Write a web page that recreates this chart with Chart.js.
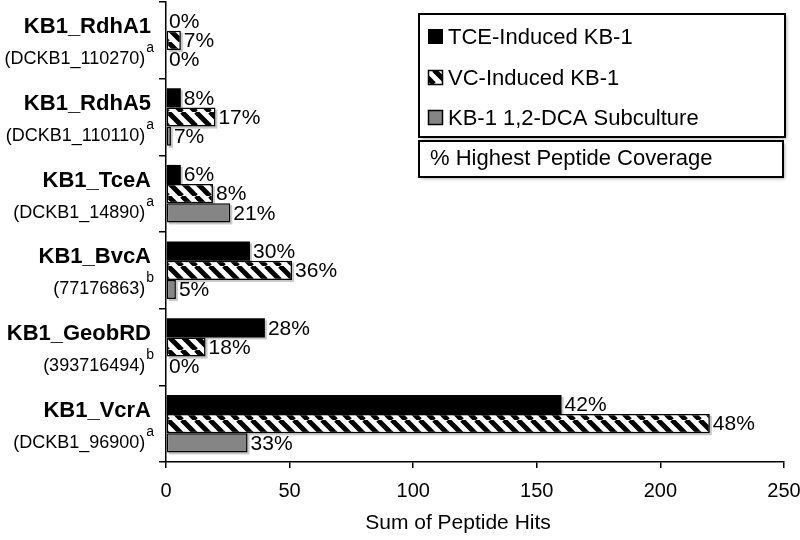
<!DOCTYPE html>
<html>
<head>
<meta charset="utf-8">
<title>Peptide hits per reductive dehalogenase</title>
<script src="https://cdn.jsdelivr.net/npm/chart.js@4.4.1/dist/chart.umd.min.js"></script>
<style>
  html, body { margin: 0; padding: 0; background: #fff; }
  #wrap { width: 800px; height: 540px; }
</style>
</head>
<body>
<div id="wrap"><canvas id="hitsChart" width="800" height="540"></canvas></div>
<script>
// Categories (top to bottom)
const proteins = ['KB1_RdhA1', 'KB1_RdhA5', 'KB1_TceA', 'KB1_BvcA', 'KB1_GeobRD', 'KB1_VcrA'];
const accessions = ['(DCKB1_110270)', '(DCKB1_110110)', '(DCKB1_14890)', '(77176863)', '(393716494)', '(DCKB1_96900)'];
const sources = ['a', 'a', 'a', 'b', 'b', 'a'];

// Sum of peptide hits
const tceHits = [0, 6, 6, 34, 40, 160];
const vcHits = [6, 20, 19, 51, 16, 220];
const dcaHits = [0, 2, 26, 4, 0, 33];

// % highest peptide coverage (bar labels)
const tceCoverage = ['0%', '8%', '6%', '30%', '28%', '42%'];
const vcCoverage = ['7%', '17%', '8%', '36%', '18%', '48%'];
const dcaCoverage = ['0%', '7%', '21%', '5%', '0%', '33%'];

// X axis
const hitTicks = [0, 50, 100, 150, 200, 250];
const xTitle = 'Sum of Peptide Hits';

const FONT = '"Liberation Sans", Arial, Helvetica, sans-serif';

// "\\\" hatch used for the VC bars
function makeHatch() {
  const c = document.createElement('canvas');
  c.width = 14;
  c.height = 14;
  const g = c.getContext('2d');
  g.fillStyle = '#fff';
  g.fillRect(0, 0, 14, 14);
  g.strokeStyle = '#000';
  g.lineWidth = 5;
  [-14, 0, 14].forEach(k => {
    g.beginPath();
    g.moveTo(k, 0);
    g.lineTo(k + 14, 14);
    g.stroke();
  });
  return g.createPattern(c, 'repeat');
}

const ctx = document.getElementById('hitsChart').getContext('2d');
const hatch = makeHatch();
const coverage = [tceCoverage, vcCoverage, dcaCoverage];

// soft drop shadow under each bar
const barShadow = {
  id: 'barShadow',
  beforeDatasetsDraw(chart) {
    const c = chart.ctx;
    c.save();
    c.fillStyle = 'rgba(0,0,0,0.22)';
    chart.data.datasets.forEach((ds, d) => {
      chart.getDatasetMeta(d).data.forEach(el => {
        const p = el.getProps(['x', 'y', 'base', 'height'], true);
        if (p.x - p.base < 1) return;
        c.fillRect(p.base + 2, p.y - p.height / 2 + 2, p.x - p.base, p.height);
      });
    });
    c.restore();
  }
};

// percentage labels at the end of each bar
const coverageLabels = {
  id: 'coverageLabels',
  afterDatasetsDraw(chart) {
    const c = chart.ctx;
    c.save();
    c.font = '21px ' + FONT;
    c.fillStyle = '#000';
    c.textAlign = 'left';
    c.textBaseline = 'middle';
    chart.data.datasets.forEach((ds, d) => {
      chart.getDatasetMeta(d).data.forEach((el, i) => {
        const p = el.getProps(['x', 'y'], true);
        c.fillText(coverage[d][i], p.x + 3, p.y + 1);
      });
    });
    c.restore();
  }
};

// two-line category labels: bold name, accession with superscript source
const categoryLabels = {
  id: 'categoryLabels',
  afterDraw(chart) {
    const c = chart.ctx;
    const y = chart.scales.y;
    const right = y.right - 15;
    c.save();
    c.fillStyle = '#000';
    c.textAlign = 'right';
    c.textBaseline = 'middle';
    proteins.forEach((name, i) => {
      const mid = y.getPixelForValue(i);
      c.font = 'bold 22px ' + FONT;
      c.fillText(name, right, mid - 13);
      c.font = '14px ' + FONT;
      const supW = c.measureText(sources[i]).width;
      c.fillText(sources[i], right + 3, mid + 8);
      c.font = '18px ' + FONT;
      c.fillText(accessions[i], right + 3 - supW - 1, mid + 19);
    });

    // x axis title, sitting a little left of the axis centre as in the figure
    const x = chart.scales.x;
    c.font = '21px ' + FONT;
    c.textAlign = 'center';
    c.fillText(xTitle, (x.left + x.right) / 2 - 17, x.bottom - 17);
    c.restore();
  }
};

// boxed legend in the upper right
const boxLegend = {
  id: 'boxLegend',
  afterDraw(chart) {
    const c = chart.ctx;
    c.save();
    c.shadowColor = 'rgba(0,0,0,0.3)';
    c.shadowOffsetX = 2;
    c.shadowOffsetY = 2;
    c.shadowBlur = 3;
    c.fillStyle = '#fff';
    c.fillRect(419, 14, 366, 123);
    c.fillRect(419, 141, 364, 36);
    c.restore();

    c.save();
    c.strokeStyle = '#000';
    c.lineWidth = 2;
    c.strokeRect(419, 14, 366, 123);
    c.strokeRect(419, 141, 364, 36);

    c.font = '22px ' + FONT;
    c.fillStyle = '#000';
    c.textAlign = 'left';
    c.textBaseline = 'middle';
    const rows = [37, 78, 118];
    chart.data.datasets.forEach((ds, d) => {
      const ry = rows[d];
      c.fillStyle = ds.backgroundColor;
      c.fillRect(428, ry - 8, 15, 15);
      if (ds.borderWidth) {
        c.lineWidth = 1.5;
        c.strokeStyle = '#000';
        c.strokeRect(428.5, ry - 7.5, 14, 14);
      }
      c.fillStyle = '#000';
      c.fillText(ds.label, 448, ry + 1);
    });
    c.fillText('% Highest Peptide Coverage', 430, 159);
    c.restore();
  }
};

new Chart(ctx, {
  type: 'bar',
  data: {
    labels: proteins,
    datasets: [
      {
        label: 'TCE-Induced KB-1',
        data: tceHits,
        backgroundColor: '#000',
        borderWidth: 0
      },
      {
        label: 'VC-Induced KB-1',
        data: vcHits,
        backgroundColor: hatch,
        borderColor: '#000',
        borderWidth: 1.5,
        borderSkipped: false
      },
      {
        label: 'KB-1 1,2-DCA Subculture',
        data: dcaHits,
        backgroundColor: '#858585',
        borderColor: '#000',
        borderWidth: 1.5,
        borderSkipped: false
      }
    ]
  },
  options: {
    responsive: false,
    animation: false,
    indexAxis: 'y',
    layout: { padding: { top: 2, right: 16, left: 0, bottom: 0 } },
    datasets: { bar: { categoryPercentage: 0.75, barPercentage: 1 } },
    plugins: {
      legend: { display: false },
      tooltip: { enabled: false }
    },
    scales: {
      x: {
        min: hitTicks[0],
        max: hitTicks[hitTicks.length - 1],
        afterBuildTicks: s => { s.ticks = hitTicks.map(v => ({ value: v })); },
        ticks: { color: '#000', font: { family: FONT, size: 20 }, padding: 11 },
        grid: { drawOnChartArea: false, tickLength: 6, color: '#000', lineWidth: 1.5 },
        border: { color: '#000', width: 1.5 },
        title: { display: false },
        afterFit: s => {
          s.height = 78;
          s.paddingRight = 0;
          s.paddingLeft = 0;
        }
      },
      y: {
        ticks: { display: false },
        grid: { drawOnChartArea: false, tickLength: 7, color: '#000', lineWidth: 1.5 },
        border: { color: '#000', width: 1.5 },
        afterFit: s => { s.width = 166; }
      }
    }
  },
  plugins: [barShadow, coverageLabels, categoryLabels, boxLegend]
});
</script>
</body>
</html>
